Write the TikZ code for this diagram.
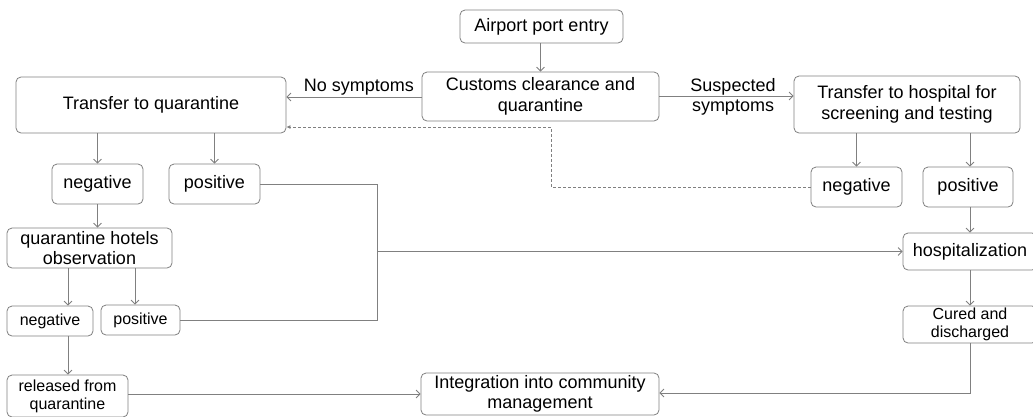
\documentclass[tikz,border=0pt]{standalone}
\usepackage{fontspec}
\setmainfont{Liberation Sans}
\usetikzlibrary{arrows.meta,calc}
\begin{document}
\begin{tikzpicture}[x=1pt,y=-1pt,
  box/.style={draw=black!50,line width=0.8pt,rounded corners=5pt,align=center,inner sep=0pt,text=black,font=\fontsize{18}{20.5}\selectfont},
  smallbox/.style={box,font=\fontsize{16}{18}\selectfont},
  arr/.style={draw=black!50,line width=0.8pt,-{Straight Barb[length=4pt,width=8pt]}},
  ln/.style={draw=black!50,line width=0.8pt},
  dsh/.style={draw=black!50,line width=0.8pt,dashed,dash pattern=on 3pt off 2pt,-{Latex[length=4pt,width=4pt]}},
  lbl/.style={inner sep=0pt,align=center,font=\fontsize{18}{20}\selectfont}]
\useasboundingbox (0,0) rectangle (1033,416);
\fill[white] (0,0) rectangle (1033,416);

\node[box,minimum width=163pt,minimum height=33pt] (airport) at (541.5,26.5) {Airport port entry};
\node[box,minimum width=237pt,minimum height=49pt] (customs) at (540.5,96.5) {Customs clearance and\\quarantine};
\node[box,minimum width=270pt,minimum height=56pt] (tq) at (151,105) {Transfer to quarantine};
\node[box,minimum width=226pt,minimum height=57pt] (hosp) at (907,104.5) {Transfer to hospital for\\screening and testing};
\node[box,minimum width=91pt,minimum height=40pt] (rneg) at (856.5,187) {negative};
\node[box,minimum width=90pt,minimum height=40pt] (rpos) at (968,187) {positive};
\node[box,minimum width=91pt,minimum height=40pt] (lneg) at (97.5,184) {negative};
\node[box,minimum width=91pt,minimum height=40pt] (lpos) at (214.5,184) {positive};
\node[box,minimum width=165pt,minimum height=40pt] (hotels) at (89.5,248) {quarantine hotels\\observation};
\node[smallbox,minimum width=86pt,minimum height=30pt] (bneg) at (50,321) {negative};
\node[smallbox,minimum width=79pt,minimum height=30pt] (bpos) at (140.5,320) {positive};
\node[smallbox,minimum width=121pt,minimum height=42pt] (rel) at (67.5,396) {released from\\quarantine};
\node[box,minimum width=238pt,minimum height=42pt] (integ) at (540,394) {Integration into community\\management};
\node[box,minimum width=134pt,minimum height=37pt] (hospz) at (970,251.5) {hospitalization};
\node[smallbox,minimum width=134pt,minimum height=37pt] (cured) at (970,324.5) {Cured and\\discharged};

\node[lbl] (nosym) at (359,87) {No symptoms};
\node[lbl] (susp) at (733,97) {Suspected\\symptoms};

\coordinate (xa) at (68,0);
\coordinate (xb) at (135,0);
\coordinate (jx) at (377,0);
\coordinate (dx) at (551,0);

\draw[arr] (airport.south -| customs.north) -- (customs.north);
\draw[arr] (customs.west |- 0,97) -- (tq.east |- 0,97);
\draw[arr] (customs.east |- 0,96) -- (hosp.west |- 0,96);
\draw[dsh] (rneg.west) -- (dx |- rneg.west) -- (dx |- 0,127) -- (tq.east |- 0,127);
\draw[arr] (rneg.north |- hosp.south) -- (rneg.north);
\draw[arr] (hospz.north |- hosp.south) -- (hospz.north |- rpos.north);
\draw[arr] (lneg.north |- tq.south) -- (lneg.north);
\draw[arr] (lpos.north |- tq.south) -- (lpos.north);
\draw[arr] (lneg.south) -- (lneg.south |- hotels.north);
\draw[arr] (xa |- hotels.south) -- (xa |- bneg.north);
\draw[arr] (xb |- hotels.south) -- (xb |- bpos.north);
\draw[arr] (xa |- bneg.south) -- (xa |- rel.north);
\draw[ln] (lpos.east) -- (jx |- lpos.east) -- (jx |- bpos.east) -- (bpos.east);
\draw[arr] (jx |- hospz.west) -- (hospz.west);
\draw[arr] (rel.east |- integ.west) -- (integ.west);
\draw[arr] (hospz.north |- rpos.south) -- (hospz.north);
\draw[arr] (hospz.south) -- (cured.north);
\draw[arr] (cured.south) -- (cured.south |- 0,393) -- (integ.east |- 0,393);
\end{tikzpicture}
\end{document}
